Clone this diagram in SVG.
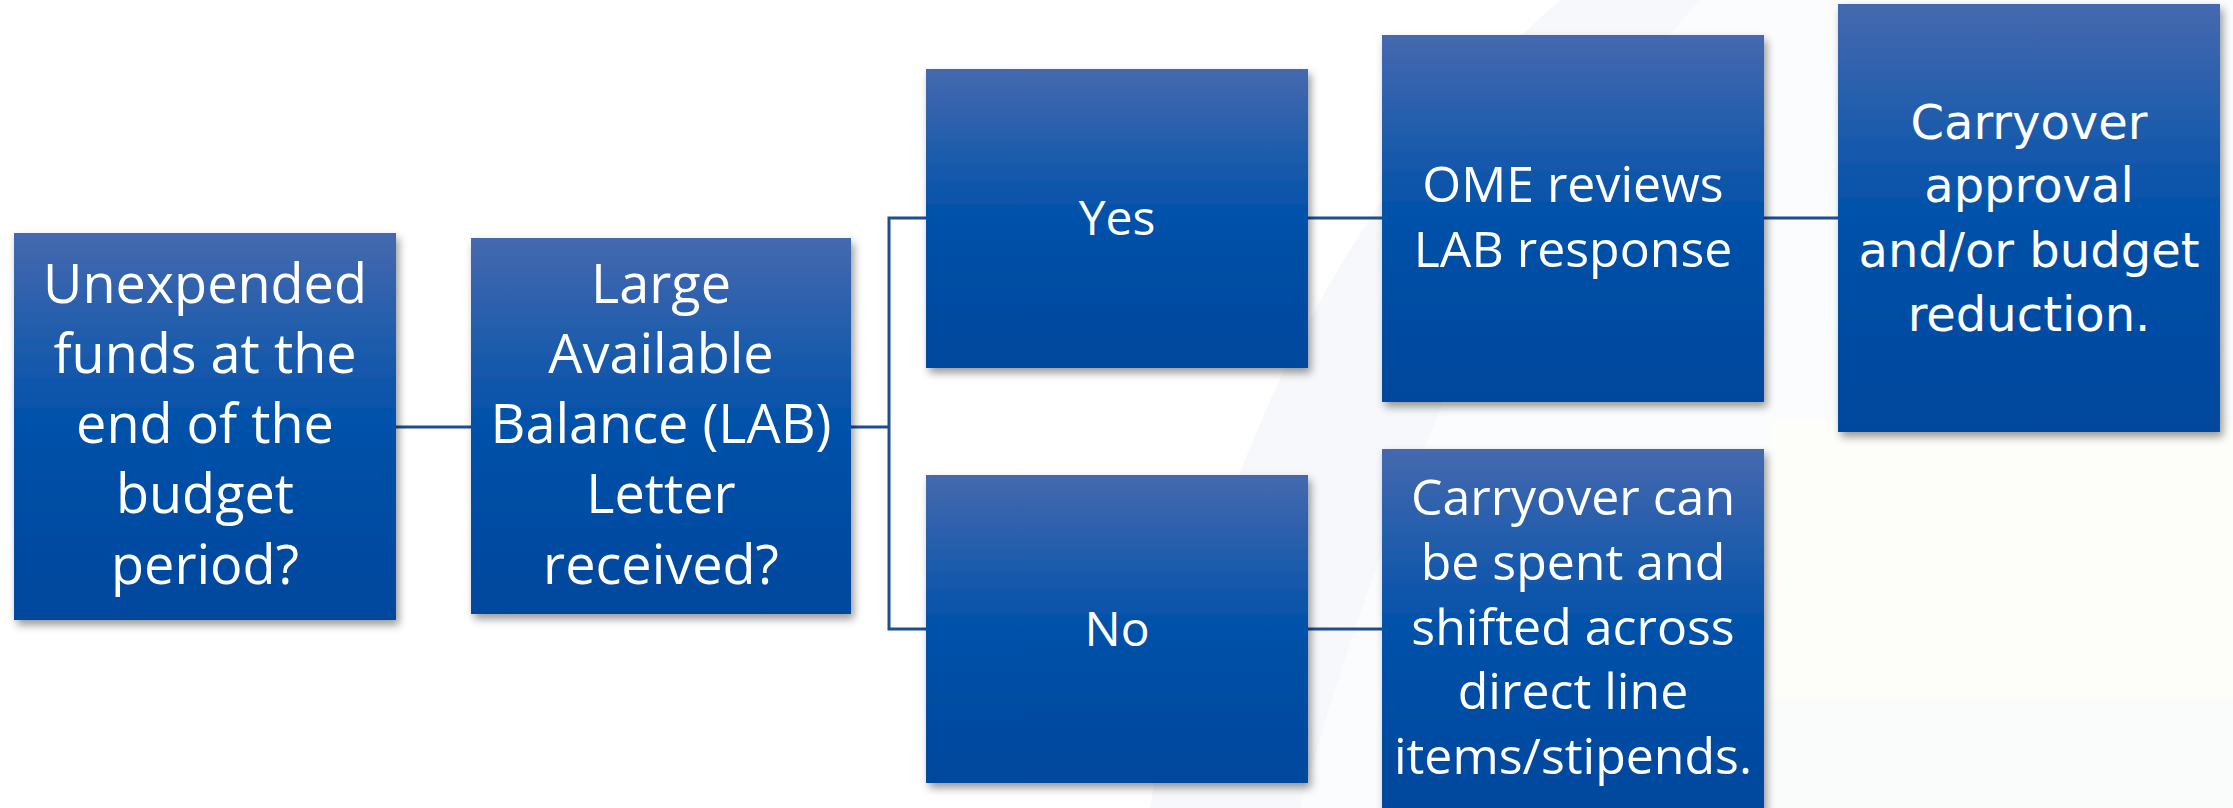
<svg xmlns="http://www.w3.org/2000/svg" width="2233" height="808" viewBox="0 0 2233 808">
  <defs>
    <linearGradient id="boxGrad" x1="0" y1="0" x2="0" y2="1">
      <stop offset="0" stop-color="#4569AF"/>
      <stop offset="0.5" stop-color="#0051A9"/>
      <stop offset="1" stop-color="#00479D"/>
    </linearGradient>
    <filter id="shadow" x="-10%" y="-10%" width="125%" height="125%">
      <feDropShadow dx="3" dy="5" stdDeviation="4" flood-color="#000" flood-opacity="0.4"/>
    </filter>
    <style>
      .box { fill: url(#boxGrad); filter: url(#shadow); }
      .conn { stroke: #1F4E8F; stroke-width: 3; fill: none; }
      .t { fill: #FFFFFF; font-family: "Open Sans", "Noto Sans", "Liberation Sans", sans-serif; text-anchor: middle; }
      .t54 { font-size: 54px; }
      .t50 { font-size: 50px; }
      .t48 { font-size: 48px; }
      .tw { fill: #FFFFFF; font-family: "DejaVu Sans", "Liberation Sans", sans-serif; font-size: 48px; text-anchor: middle; }
    </style>
  </defs>

  <g id="background">
    <rect x="0" y="0" width="2233" height="808" fill="#FFFFFF"/>
    <path d="M1560 0 L2233 0 L2233 808 L1150 808 C1200 500 1330 200 1560 0 Z" fill="#F7F8FB"/>
    <path d="M1700 0 L2233 0 L2233 808 L1300 808 C1380 520 1500 220 1700 0 Z" fill="#FBFCFD"/>
    <rect x="1770" y="420" width="463" height="280" fill="#FDFDF9"/>
    <rect x="1770" y="700" width="463" height="108" fill="#FAFBFB"/>
  </g>

  <g id="connectors">
    <line class="conn" x1="396" y1="427" x2="471" y2="427"/>
    <polyline class="conn" points="851,427 889,427"/>
    <polyline class="conn" points="926,218 889,218 889,629 926,629"/>
    <line class="conn" x1="1308" y1="218" x2="1382" y2="218"/>
    <line class="conn" x1="1308" y1="629" x2="1382" y2="629"/>
    <line class="conn" x1="1764" y1="218" x2="1838" y2="218"/>
  </g>

  <g id="node-unexpended">
    <rect class="box" x="14" y="233" width="382" height="387"/>
    <text class="t t54" x="205" y="303">Unexpended</text>
    <text class="t t54" x="205" y="373">funds at the</text>
    <text class="t t54" x="205" y="443">end of the</text>
    <text class="t t54" x="205" y="513">budget</text>
    <text class="t t54" x="205" y="584">period?</text>
  </g>

  <g id="node-lab">
    <rect class="box" x="471" y="238" width="380" height="376"/>
    <text class="t t54" x="661" y="303">Large</text>
    <text class="t t54" x="661" y="373">Available</text>
    <text class="t t54" x="661" y="443">Balance (LAB)</text>
    <text class="t t54" x="661" y="513">Letter</text>
    <text class="t t54" x="661" y="584">received?</text>
  </g>

  <g id="node-yes">
    <rect class="box" x="926" y="69" width="382" height="299"/>
    <text class="t t48" x="1117" y="235">Yes</text>
  </g>

  <g id="node-no">
    <rect class="box" x="926" y="475" width="382" height="308"/>
    <text class="t t48" x="1117" y="646">No</text>
  </g>

  <g id="node-ome">
    <rect class="box" x="1382" y="35" width="382" height="367"/>
    <text class="t t50" x="1573" y="202">OME reviews</text>
    <text class="t t50" x="1573" y="267">LAB response</text>
  </g>

  <g id="node-carryover-spent">
    <rect class="box" x="1382" y="449" width="382" height="362"/>
    <text class="t t50" x="1573" y="515">Carryover can</text>
    <text class="t t50" x="1573" y="580">be spent and</text>
    <text class="t t50" x="1573" y="645">shifted across</text>
    <text class="t t50" x="1573" y="709">direct line</text>
    <text class="t t50" x="1573" y="774">items/stipends.</text>
  </g>

  <g id="node-carryover-approval">
    <rect class="box" x="1838" y="4" width="382" height="428"/>
    <text class="tw" x="2029" y="139">Carryover</text>
    <text class="tw" x="2029" y="202">approval</text>
    <text class="tw" x="2029" y="267">and/or budget</text>
    <text class="tw" x="2029" y="331">reduction.</text>
  </g>
</svg>
